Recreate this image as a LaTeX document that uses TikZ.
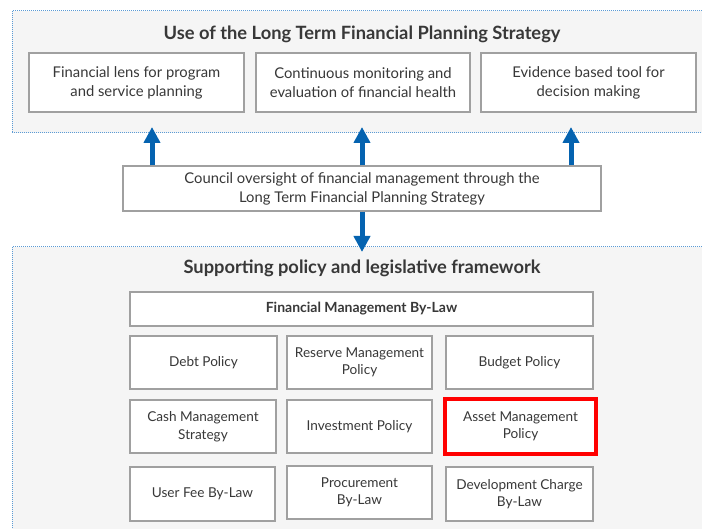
\documentclass[tikz,border=0pt]{standalone}
\usepackage{fontspec}
\setmainfont{Lato}
\usetikzlibrary{positioning, calc, arrows.meta}
\definecolor{panelfill}{HTML}{F5F5F5}
\definecolor{panelline}{HTML}{5B9BD5}
\definecolor{boxline}{HTML}{A0A0A0}
\definecolor{arrowblue}{HTML}{0563B0}
\definecolor{txt}{HTML}{383838}
\tikzset{
  box/.style={draw=boxline, line width=1.3pt, fill=white, align=center,
    text=txt, font=\fontsize{14.8}{19}\selectfont, inner sep=2pt},
  cell/.style={box, font=\fontsize{13.6}{17.5}\selectfont},
  panel/.style={fill=panelfill, draw=panelline, line width=1pt, densely dotted},
  heading/.style={text=txt, font=\bfseries\fontsize{18.3}{21}\selectfont},
  uparrow/.style={draw=arrowblue, line width=5pt,
    -{Triangle[width=16pt,length=16pt]}}
}
\begin{document}
\begin{tikzpicture}[x=1pt, y=-1pt]
  \useasboundingbox (0,0) rectangle (702,529);
  \clip (0,0) rectangle (702,529);

  % panels
  \draw[panel] (12,11) rectangle (712,133);
  \draw[panel] (12,247) rectangle (712,540);
  \node[heading] (use_title) at (362,34) {Use of the Long Term Financial Planning Strategy};
  \node[heading] (sup_title) at (362,268) {Supporting policy and legislative framework};

  % top row
  \node[box, minimum width=215pt, minimum height=59pt] (lens) at (136.5,82.5)
    {Financial lens for program\\and service planning};
  \node[box, minimum width=214pt, minimum height=59pt] (monitor) at (363,82.5)
    {Continuous monitoring and\\evaluation of financial health};
  \node[box, minimum width=215pt, minimum height=59pt] (evidence) at (588.5,82.5)
    {Evidence based tool for\\decision making};

  % council box
  \node[box, minimum width=478pt, minimum height=45pt] (council) at (362,188.5)
    {Council oversight of financial management through the\\Long Term Financial Planning Strategy};

  \coordinate (tip_lens) at (152,127);
  \coordinate (tip_monitor) at (362,127);
  \coordinate (tip_evidence) at (571,127);
  \coordinate (tip_down) at (362,252);
  \draw[uparrow] (council.north -| tip_lens) -- (tip_lens);
  \draw[uparrow] (council.north -| tip_monitor) -- (tip_monitor);
  \draw[uparrow] (council.north -| tip_evidence) -- (tip_evidence);
  \draw[uparrow] (council.south -| tip_down) -- (tip_down);

  % policy framework
  \node[box, font=\bfseries\fontsize{14}{17}\selectfont,
    minimum width=463pt, minimum height=34pt] (fmbl) at (361.5,309) {Financial Management By-Law};

  \node[cell, minimum width=147pt, minimum height=53pt] (debt) at (203.5,362.5) {Debt Policy};
  \node[cell, minimum width=145pt, minimum height=53pt] (reserve) at (359.5,362.5)
    {Reserve Management\\Policy};
  \node[cell, minimum width=147pt, minimum height=53pt] (budget) at (519.5,362.5) {Budget Policy};

  \node[cell, minimum width=146pt, minimum height=53pt] (cash) at (203,426.5)
    {Cash Management\\Strategy};
  \node[cell, minimum width=145pt, minimum height=53pt] (invest) at (359.5,426.5) {Investment Policy};
  \node[cell, draw=red, line width=4pt, minimum width=151pt, minimum height=55pt] (asset) at (520.5,426.5)
    {Asset Management\\Policy};

  \node[cell, minimum width=145pt, minimum height=54pt] (userfee) at (202.5,494) {User Fee By-Law};
  \node[cell, minimum width=145pt, minimum height=53pt] (procure) at (359.5,492.5)
    {Procurement\\By-Law};
  \node[cell, minimum width=147pt, minimum height=54pt] (devcharge) at (519.5,494)
    {Development Charge\\By-Law};
\end{tikzpicture}
\end{document}
